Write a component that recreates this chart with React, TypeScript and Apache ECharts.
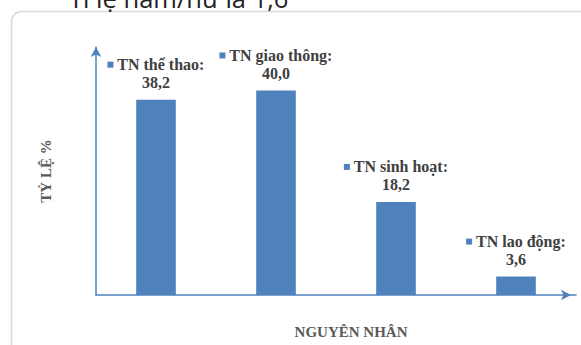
import React, { useEffect, useRef } from "react";
import * as echarts from "echarts";

const categories = ["TN thể thao", "TN giao thông", "TN sinh hoạt", "TN lao động"];
const values = [38.2, 40.0, 18.2, 3.6];
const yAxisName = "TỶ LỆ %";
const xAxisName = "NGUYÊN NHÂN";
const topText = "Tỉ lệ nam/nữ là 1,6";

const BLUE = "#4f81bd";
const SERIF = '"Liberation Serif", "Times New Roman", serif';

export default function App() {
  const ref = useRef<HTMLDivElement>(null);
  useEffect(() => {
    if (!ref.current) return;
    const chart = echarts.init(ref.current, undefined, { renderer: "svg" });
    chart.setOption({
      animation: false,
      backgroundColor: "#ffffff",
      grid: { left: 96, right: 5, top: 47, bottom: 50, outerBoundsMode: "none", containLabel: false },
      graphic: [
        {
          type: "rect",
          shape: { x: 11.5, y: 11.5, width: 640, height: 420, r: 10 },
          style: { fill: "none", stroke: "#d9d9d9", lineWidth: 1.5 },
          silent: true,
        },
        {
          type: "text",
          x: 69,
          y: 11,
          style: {
            text: topText,
            font: '25.5px "Open Sans", sans-serif',
            fill: "#222222",
            verticalAlign: "bottom",
            align: "left",
          },
        },
      ],
      xAxis: {
        type: "category",
        data: categories,
        name: xAxisName,
        nameLocation: "middle",
        nameGap: 29,
        nameTextStyle: {
          fontFamily: SERIF,
          fontWeight: "bold",
          fontSize: 15,
          color: "#595959",
          padding: [0, 0, 0, 30],
        },
        axisLine: {
          show: true,
          symbol: ["none", "arrow"],
          symbolSize: [8, 10],
          symbolOffset: [0, -5],
          lineStyle: { color: BLUE, width: 1.5 },
        },
        axisTick: { show: false },
        axisLabel: { show: false },
        splitLine: { show: false },
      },
      yAxis: {
        type: "value",
        min: 0,
        max: 48.5,
        name: yAxisName,
        nameLocation: "middle",
        nameGap: 43,
        nameRotate: 90,
        nameTextStyle: {
          fontFamily: SERIF,
          fontWeight: "bold",
          fontSize: 15,
          color: "#595959",
        },
        axisLine: {
          show: true,
          symbol: ["none", "arrow"],
          symbolSize: [8, 10],
          lineStyle: { color: BLUE, width: 1.5 },
        },
        axisTick: { show: false },
        axisLabel: { show: false },
        splitLine: { show: false },
      },
      series: [
        {
          type: "bar",
          data: values,
          barWidth: "33%",
          itemStyle: { color: BLUE },
          label: {
            show: true,
            position: "top",
            distance: 8,
            formatter: (p: any) =>
              `{sq|}{t| ${p.name}:}\n{t|${Number(p.value).toFixed(1).replace(".", ",")}}`,
            rich: {
              sq: {
                width: 6,
                height: 6,
                backgroundColor: BLUE,
                verticalAlign: "middle",
              },
              t: {
                fontFamily: SERIF,
                fontWeight: "bold",
                fontSize: 16,
                color: "#404040",
                lineHeight: 18,
              },
            },
          },
        },
      ],
    });
    return () => chart.dispose();
  }, []);
  return (
    <div
      ref={ref}
      style={{ position: "fixed", left: 0, top: 0, width: 581, height: 345 }}
    />
  );
}
